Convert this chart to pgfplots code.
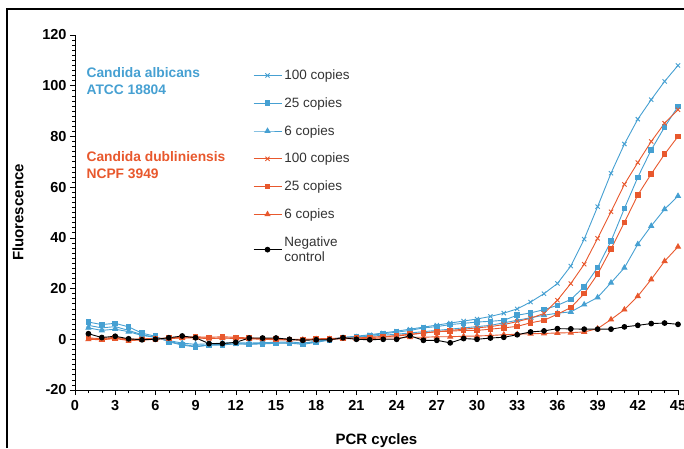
\documentclass[border=0pt]{standalone}
\usepackage{pgfplots}
\pgfplotsset{compat=1.18}
\usepackage{fontspec}
\setmainfont{Liberation Sans}
\definecolor{cblue}{RGB}{70,160,210}
\definecolor{cred}{RGB}{232,88,45}
\pgfplotstableread{
c b100 b25 b6 r100 r25 r6 neg
1 5.5 6.8 4.5 0.5 0.3 0 2.2
2 4.5 5.8 3.5 0.3 0 -0.2 0.7
3 5 6.3 4 0.8 0.5 0.3 1.2
4 3.5 4.9 3 0 -0.3 -0.5 0.2
5 1.8 2.4 1.5 0.2 0 -0.3 -0.2
6 0.8 1.2 0.8 0.3 0.2 0 0
7 -0.8 -1 -0.5 0.5 0.5 0.3 0.6
8 -2 -2.3 -1.5 0.5 0.8 0.5 1.3
9 -2.8 -3 -2 0.8 1 0.5 0.6
10 -2.2 -2.3 -1.8 0.3 0.8 0.3 -1.7
11 -2 -2.3 -1.5 0.5 1 0.5 -1.7
12 -1.8 -1.7 -1.3 0.5 0.8 0.3 -1.2
13 -1.8 -2 -1.5 0.3 0.5 0.2 0.5
14 -1.6 -1.8 -1.3 0.2 0.3 0 0.5
15 -1.5 -1.6 -1.2 0 0.2 -0.2 0.5
16 -1.4 -1.5 -1 -0.2 0 -0.3 0
17 -1.6 -2 -1.5 -0.2 0 -0.2 -0.4
18 -1 -1.2 -0.8 0 0.2 0 -0.2
19 0 -0.3 0 0.2 0.3 0 -0.2
20 0.8 0.5 0.5 0.3 0.5 0.2 0.6
21 1.2 1 0.8 0.5 0.5 0.2 0
22 1.8 1.5 1.2 0.8 0.8 0.3 -0.2
23 2.5 2.2 1.6 1 1 0.5 0
24 3.2 2.8 2 1.3 1.5 0.5 0
25 4 3.5 2.5 1.8 2 0.8 1.4
26 4.8 4.5 3 2.5 2.5 0.8 -0.4
27 5.6 5 3.5 3 3 1 -0.4
28 6.4 5.8 4 3.5 3.2 1 -1.4
29 7.2 6.3 4.5 4 3.5 1.2 0.3
30 8 6.8 5 4.5 3.5 1.3 0
31 9 7.1 5.5 5 4 1.5 0.5
32 10.3 7.5 6.5 5.8 4.5 1.8 0.8
33 12 9.5 7.5 7 5.1 2 1.8
34 14.7 10.4 8.5 8.3 6.5 2.2 2.9
35 18 11.7 9.5 10.2 7.5 2.3 3.3
36 22 13.4 10.3 15.4 9.9 2.5 4.2
37 28.9 15.7 10.8 22 12.5 2.6 4.1
38 39.5 20.7 13.7 29.6 18 2.9 4
39 52.3 28.3 16.5 39.8 25.7 4.2 4
40 65.5 38.7 22.3 50.3 35.6 7.8 4
41 77 51.6 28.2 61.1 46.1 11.7 4.9
42 86.8 63.9 37.5 69.7 56.9 17 5.5
43 94.5 74.7 44.7 78 65.2 23.6 6.2
44 101.7 83.7 51.3 85.2 73 30.8 6.4
45 108 91.8 56.5 90.5 80 36.5 5.9
}\datatable
\begin{document}
\begin{tikzpicture}[x=1pt,y=1pt]
\useasboundingbox (0,0) rectangle (684,448);
\draw[line width=2.8pt] (7,0) -- (7,439) -- (685,439);
\begin{axis}[
  at={(75pt,58pt)}, anchor=south west,
  scale only axis, width=603pt, height=355pt,
  xmin=0, xmax=45, ymin=-20, ymax=120,
  axis lines=left, axis line style={-, line width=0.8pt},
  xtick={0,3,...,45}, ytick={-20,0,...,120},
  minor x tick num=2, minor y tick num=9,
  tick style={black, line width=0.6pt},
  major tick length=5pt, minor tick length=3pt,
  tick align=outside,
  /pgf/number format/assume math mode=true,
  tick label style={font=\fontsize{14.5}{16}\selectfont\bfseries},
  xticklabel style={yshift=-2pt},
  xlabel={PCR cycles}, ylabel={Fluorescence},
  label style={font=\fontsize{15}{17}\selectfont\bfseries},
  xlabel style={yshift=-16pt},
  ylabel style={yshift=12pt},
  every axis plot/.append style={line width=0.9pt, mark size=2.3pt},
  legend style={draw=none, fill=none, at={(0.29,0.911)}, anchor=north west,
    font=\fontsize{13.5}{15}\selectfont, row sep=14.5pt,
    cells={align=left, anchor=west}, nodes={inner sep=1pt, inner xsep=2.5pt, text=black!80}},
  legend image code/.code={\draw[mark repeat=2,mark phase=2] plot coordinates {(0pt,0pt) (14pt,0pt) (28pt,0pt)};},
]
\addplot[cblue, mark=x, mark size=3pt] table[x=c,y=b100] {\datatable};
\addlegendentry{100 copies}
\addplot[cblue, mark=square*] table[x=c,y=b25] {\datatable};
\addlegendentry{25 copies}
\addplot[cblue, mark=triangle*, mark size=2.8pt] table[x=c,y=b6] {\datatable};
\addlegendentry{6 copies}
\addplot[cred, mark=x, mark size=3pt] table[x=c,y=r100] {\datatable};
\addlegendentry{100 copies}
\addplot[cred, mark=square*] table[x=c,y=r25] {\datatable};
\addlegendentry{25 copies}
\addplot[cred, mark=triangle*, mark size=2.8pt] table[x=c,y=r6] {\datatable};
\addlegendentry{6 copies}
\addplot[black, mark=*, mark size=2.4pt] table[x=c,y=neg] {\datatable};
\addlegendentry{Negative\\control}
\node[anchor=north west, align=left, text=cblue, font=\fontsize{13.8}{17}\selectfont\bfseries, inner sep=0pt] at (axis cs:0.85,107.3) {Candida albicans\\ATCC 18804};
\node[anchor=north west, align=left, text=cred, font=\fontsize{13.8}{17}\selectfont\bfseries, inner sep=0pt] at (axis cs:0.85,74.3) {Candida dubliniensis\\NCPF 3949};
\end{axis}
\end{tikzpicture}
\end{document}
